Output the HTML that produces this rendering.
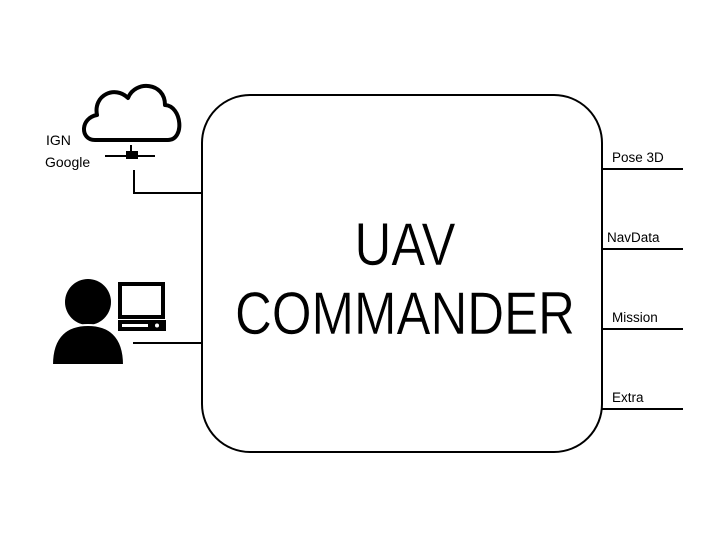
<!DOCTYPE html>
<html><head><meta charset="utf-8"><style>
html,body{margin:0;padding:0;background:#fff;}
svg{display:block}
text{font-family:"Liberation Sans",sans-serif;}
</style></head><body>
<svg width="720" height="540" viewBox="0 0 720 540" xmlns="http://www.w3.org/2000/svg">
<rect width="720" height="540" fill="#fff"/>
<rect x="202" y="95" width="400" height="357" rx="48" ry="48" fill="#fff" stroke="#000" stroke-width="2"/>
<g stroke="#000" stroke-width="2" fill="none">
<polyline points="134,170 134,193 202,193"/>
<line x1="133" y1="343" x2="202" y2="343"/>
<line x1="602" y1="169" x2="683" y2="169"/>
<line x1="602" y1="249" x2="683" y2="249"/>
<line x1="602" y1="329" x2="683" y2="329"/>
<line x1="602" y1="409" x2="683" y2="409"/>
</g>
<!-- cloud -->
<path d="M95,140 C80,140 80,118 97,115 C93,95 115,85 128,98 C135,80 165,82 165,105 C182,106 185,140 168,140 Z" fill="#fff" stroke="#000" stroke-width="4" stroke-linejoin="round"/>
<line x1="105" y1="156" x2="155" y2="156" stroke="#000" stroke-width="2"/>
<rect x="126" y="151" width="12" height="8" fill="#000"/>
<line x1="131" y1="145" x2="131" y2="152" stroke="#000" stroke-width="2"/>
<!-- person -->
<circle cx="88" cy="302" r="23" fill="#000"/>
<path d="M52,365 C52,335 68,325 88,325 C108,325 124,335 124,365 Z" fill="#000" stroke="#fff" stroke-width="2"/>
<rect x="120" y="284" width="43" height="33" fill="#fff" stroke="#000" stroke-width="4"/>
<rect x="118" y="320" width="48" height="11" fill="#000"/>
<rect x="122" y="324" width="26" height="3" fill="#fff"/>
<circle cx="157" cy="325.5" r="2" fill="#fff"/>
<text x="46" y="145" font-size="14" fill="#000">IGN</text>
<text x="45" y="167" font-size="14" fill="#000">Google</text>
<text x="612" y="162" font-size="13.5" fill="#000">Pose 3D</text>
<text x="607" y="242" font-size="13.5" fill="#000">NavData</text>
<text x="612" y="322" font-size="13.5" fill="#000">Mission</text>
<text x="612" y="402" font-size="13.5" fill="#000">Extra</text>
<g transform="translate(405,0) scale(0.85,1)">
<text x="0" y="265" font-size="60" text-anchor="middle" fill="#000" stroke="#fff" stroke-width="0.5">UAV</text>
<text x="0" y="334" font-size="60" text-anchor="middle" fill="#000" stroke="#fff" stroke-width="0.5">COMMANDER</text>
</g>
</svg>
</body></html>
